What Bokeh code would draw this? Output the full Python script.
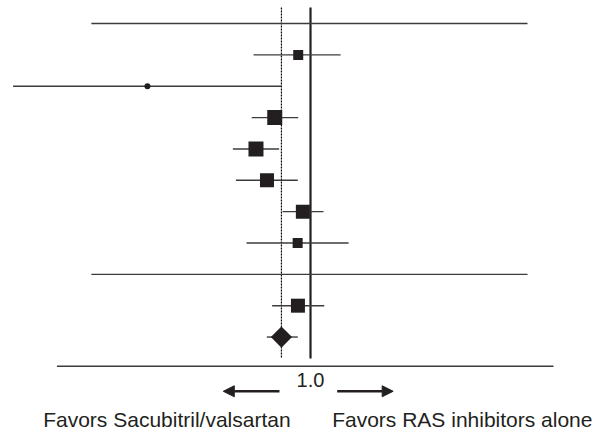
import math
from bokeh.plotting import figure
from bokeh.models import Range1d, Arrow, NormalHead
from bokeh.embed import file_html
from bokeh.resources import INLINE
from bokeh.core.properties import value

# ---- data (ratio scale, rows counted from top) ----
study_rows = [1, 2, 3, 4, 5, 6, 7, 9]
study_est = [0.91, 0.286, 0.76, 0.658, 0.716, 0.943, 0.906, 0.908]
study_lo = [0.646, 0.102, 0.637, 0.551, 0.564, 0.807, 0.612, 0.745]
study_hi = [1.26, 0.80, 0.91, 0.786, 0.907, 1.105, 1.339, 1.111]
study_marker = ["square", "circle", "square", "square", "square", "square", "square", "square"]
study_size = [10, 6, 15, 15, 14, 14, 10, 14]

pooled_row = 10
pooled_est = 0.80
pooled_lo = 0.715
pooled_hi = 0.907

separator_rows = [0, 8]
separator_lo = 0.186
separator_hi = 5.29

ref_value = 1.0
ref_label = "1.0"
left_label = "Favors Sacubitril/valsartan"
right_label = "Favors RAS inhibitors alone"

INK = "#231f20"
LINE = "#3c3c3c"
FONT = value("Liberation Sans")

p = figure(width=610, height=432, x_axis_type="log",
           x_range=Range1d(0.0926, 10.0), y_range=Range1d(13.045, -0.735),
           x_axis_location=None, y_axis_location=None,
           toolbar_location=None, output_backend="svg",
           min_border=0, outline_line_color=None)
p.grid.visible = False
p.background_fill_color = "white"
p.border_fill_color = "white"

# vertical reference lines
p.segment(x0=[ref_value], y0=[-0.51], x1=[ref_value], y1=[10.685],
          line_color=INK, line_width=2.2)
p.segment(x0=[pooled_est], y0=[-0.51], x1=[pooled_est], y1=[10.685],
          line_color="#000000", line_width=1.2, line_dash="2 1")

# separator lines
p.segment(x0=[separator_lo] * len(separator_rows), y0=separator_rows,
          x1=[separator_hi] * len(separator_rows), y1=separator_rows,
          line_color=LINE, line_width=1.4)

# bottom axis line
p.segment(x0=[0.1428], y0=[10.93], x1=[6.456], y1=[10.93],
          line_color=LINE, line_width=1.5)

# confidence intervals
p.segment(x0=study_lo, y0=study_rows, x1=study_hi, y1=study_rows,
          line_color=LINE, line_width=1.4)
p.segment(x0=[pooled_lo], y0=[pooled_row], x1=[pooled_hi], y1=[pooled_row],
          line_color=LINE, line_width=1.4)

# point estimates
p.scatter(x=study_est, y=study_rows, marker=study_marker, size=study_size,
          fill_color=INK, line_color=None)
p.scatter(x=[pooled_est], y=[pooled_row], marker="square", size=15,
          angle=math.pi / 4, fill_color=INK, line_color=None)

# arrows
p.add_layout(Arrow(end=NormalHead(size=11, fill_color=INK, line_color=INK),
                   x_start=0.788, y_start=11.73, x_end=0.512, y_end=11.73,
                   line_color=INK, line_width=2.5))
p.add_layout(Arrow(end=NormalHead(size=11, fill_color=INK, line_color=INK),
                   x_start=1.227, y_start=11.73, x_end=1.886, y_end=11.73,
                   line_color=INK, line_width=2.5))

# texts
p.text(x=[ref_value], y=[11.377], text=[ref_label], text_align="center",
       text_baseline="alphabetic", text_font=FONT, text_font_size="20px",
       text_color=INK)
p.text(x=[0.1285], y=[12.63], text=[left_label], text_align="left",
       text_baseline="alphabetic", text_font=FONT, text_font_size="21px",
       text_color=INK)
p.text(x=[1.181], y=[12.63], text=[right_label], text_align="left",
       text_baseline="alphabetic", text_font=FONT, text_font_size="21px",
       text_color=INK)

open("out.html", "w").write(file_html(p, INLINE))
